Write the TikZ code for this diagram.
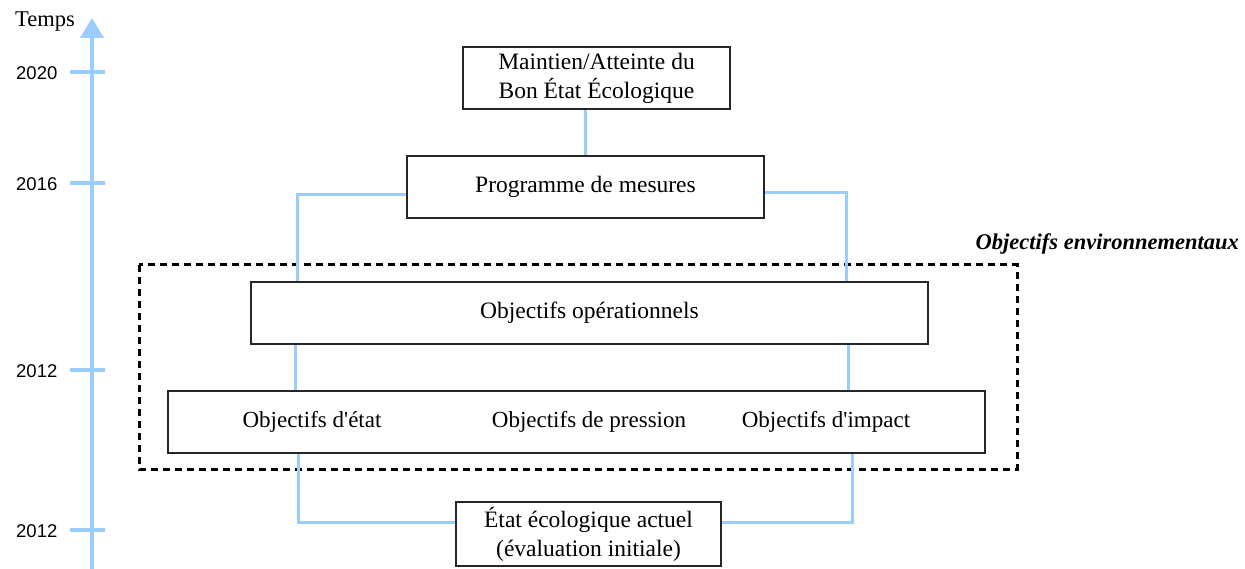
\documentclass[tikz,border=0pt]{standalone}
\usepackage{fontspec}
\setmainfont{Liberation Serif}
\newfontfamily\yearfont{Liberation Sans}
\usetikzlibrary{arrows.meta,calc}
\definecolor{lblue}{HTML}{99CCFF}
\begin{document}
\begin{tikzpicture}[x=1pt,y=-1pt,
  box/.style={draw=black!85,line width=1.3pt,inner sep=0pt,align=center,
    font=\fontsize{23.5}{29}\selectfont},
  lbl/.style={inner sep=0pt,font=\fontsize{23}{29}\selectfont},
  yr/.style={inner sep=0pt,anchor=west,font=\yearfont\fontsize{18.5}{22}\selectfont},
  conn/.style={draw=lblue,line width=3pt},
  axisline/.style={draw=lblue,line width=4pt},
  tickline/.style={draw=lblue,line width=4pt},
  envbox/.style={draw=black,line width=3pt,dash pattern=on 7pt off 5pt}]
\useasboundingbox (0,0) rectangle (1245,569);
% axis
\coordinate (axb) at (92,569);
\coordinate (axt) at (92,18);
\draw[axisline,-{Triangle[width=23pt,length=20pt]}] (axb) -- (axt);
\foreach \yy/\nm in {72/a,183/b,370/c,530/d}{
  \coordinate (t\nm l) at (70,\yy);
  \coordinate (t\nm r) at (105,\yy);
  \draw[tickline] (t\nm l) -- (t\nm r);
}
\node[inner sep=0pt,anchor=west,font=\fontsize{22.5}{24}\selectfont] (temps) at (15,22) {Temps};
\node[yr] (y2020) at (16,73) {2020};
\node[yr] (y2016) at (16,184) {2016};
\node[yr] (y2012a) at (16,371) {2012};
\node[yr] (y2012b) at (16,531) {2012};
% dashed environment box
\coordinate (e1) at (139,265);
\coordinate (e2) at (1017,469);
\draw[envbox] (e1) rectangle (e2);
\node[inner sep=0pt,anchor=east,font=\fontsize{22.5}{24}\selectfont\bfseries\itshape] (envlbl) at (1239,244) {Objectifs environnementaux};
% boxes
\node[box,minimum width=267pt,minimum height=62pt] (b1) at (596.5,78) {Maintien/Atteinte du\\Bon État Écologique};
\node[box,minimum width=357pt,minimum height=62pt] (b2) at (585.5,187) {Programme de mesures};
\node[box,minimum width=677pt,minimum height=62pt] (op) at (589.5,313) {Objectifs opérationnels};
\node[box,minimum width=817pt,minimum height=62pt] (row) at (576.5,422) {};
\node[lbl] (oetat) at (312,422) {Objectifs d\textquotesingle état};
\node[lbl] (opres) at (589,422) {Objectifs de pression};
\node[lbl] (oimp) at (826,422) {Objectifs d\textquotesingle impact};
\node[box,minimum width=265pt,minimum height=64pt] (etat) at (588.5,534) {État écologique actuel\\(évaluation initiale)};
% column positions
\coordinate (L1) at (297,0);
\coordinate (R1) at (846,0);
\coordinate (L2) at (295,0);
\coordinate (R2) at (848,0);
\coordinate (L3) at (298,0);
\coordinate (R3) at (852,0);
\coordinate (C) at (585,0);
% connectors
\draw[conn] (C |- b1.south) -- (C |- b2.north);
\draw[conn] ([yshift=-8pt]b2.west) -| (L1 |- op.north);
\draw[conn] ([yshift=-6pt]b2.east) -| (R1 |- op.north);
\draw[conn] (L2 |- op.south) -- (L2 |- row.north);
\draw[conn] (R2 |- op.south) -- (R2 |- row.north);
\draw[conn] (L3 |- row.south) |- ([yshift=12pt]etat.west);
\draw[conn] (R3 |- row.south) |- ([yshift=12pt]etat.east);
\end{tikzpicture}
\end{document}
